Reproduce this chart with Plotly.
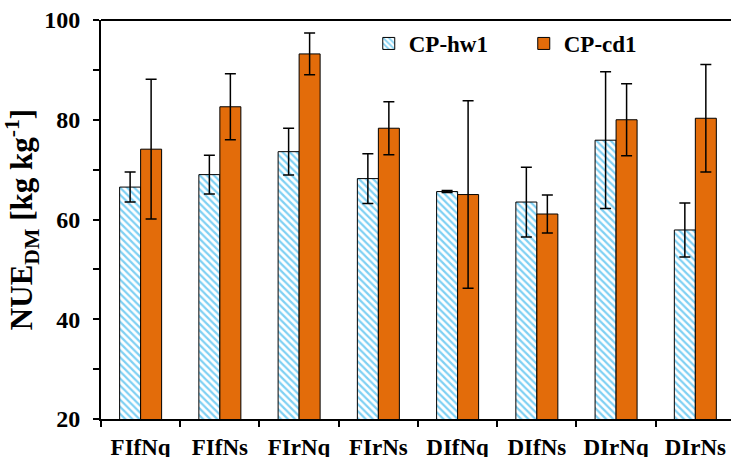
import plotly.graph_objects as go

categories = ["FIfNq", "FIfNs", "FIrNq", "FIrNs", "DIfNq", "DIfNs", "DIrNq", "DIrNs"]
hw1_values = [66.5, 69.0, 73.6, 68.2, 65.6, 63.5, 75.9, 57.9]
hw1_errors = [3.0, 3.9, 4.7, 5.0, 0.2, 7.0, 13.7, 5.4]
cd1_values = [74.1, 82.6, 93.2, 78.3, 65.0, 61.1, 80.0, 80.3]
cd1_errors = [14.0, 6.6, 4.2, 5.3, 18.8, 3.8, 7.2, 10.8]
y_ticks = [20, 40, 60, 80, 100]

FONT = "Liberation Serif"
ORANGE = "#E36C0A"
BLUE = "#00A2E8"

fig = go.Figure()
fig.add_trace(go.Bar(
    name="CP-hw1", x=categories, y=hw1_values,
    error_y=dict(type="data", array=hw1_errors, color="black", thickness=1.5, width=5.5),
    marker=dict(color="white", line=dict(color="black", width=1),
                pattern=dict(shape="\\", fgcolor=BLUE, bgcolor="white", size=5, solidity=0.45)),
))
fig.add_trace(go.Bar(
    name="CP-cd1", x=categories, y=cd1_values,
    error_y=dict(type="data", array=cd1_errors, color="black", thickness=1.5, width=5.5),
    marker=dict(color=ORANGE, line=dict(color="black", width=1)),
))
# empty trace so the label-only overlay axes are rendered
fig.add_trace(go.Scatter(x=[], y=[], xaxis="x2", yaxis="y2", showlegend=False, hoverinfo="skip"))

fig.add_shape(type="line", xref="paper", yref="paper", x0=0, x1=1, y0=1, y1=1,
              line=dict(color="black", width=2), layer="above")

bold = dict(family=FONT, color="black", weight="bold")
fig.update_layout(
    width=731, height=457,
    margin=dict(l=101, r=0, t=20, b=38),
    plot_bgcolor="white", paper_bgcolor="white",
    barmode="group", bargap=0.47, bargroupgap=0,
    font=dict(family=FONT, size=23, color="black"),
    showlegend=True,
    legend=dict(orientation="h", x=0.425, y=0.995, xanchor="left", yanchor="top",
                font=dict(size=23, **bold),
                bgcolor="rgba(0,0,0,0)", entrywidth=110, entrywidthmode="pixels",
                itemwidth=30, tracegroupgap=0),
    xaxis=dict(
        type="category", range=[-0.5, 7.45], automargin=False,
        showline=True, linecolor="black", linewidth=2,
        ticks="outside", tickson="boundaries", ticklen=6, tickwidth=2, tickcolor="black",
        showticklabels=False, showgrid=False,
    ),
    xaxis2=dict(
        overlaying="x", anchor="y", side="bottom", range=[-0.5, 7.45], automargin=False,
        tickvals=list(range(len(categories))), ticktext=categories,
        ticks="outside", ticklen=7, tickcolor="rgba(0,0,0,0)",
        tickfont=dict(size=23, **bold),
        showline=False, showgrid=False, zeroline=False,
    ),
    yaxis=dict(
        range=[20, 100], tickvals=y_ticks, automargin=False,
        showline=True, linecolor="black", linewidth=2,
        ticks="outside", ticklen=6, tickwidth=2, tickcolor="black",
        minor=dict(dtick=10, ticks="outside", ticklen=6, tickwidth=2, tickcolor="black", showgrid=False),
        showticklabels=False, showgrid=False, zeroline=False,
    ),
    yaxis2=dict(
        overlaying="y", anchor="x", side="left", range=[20, 100], tickvals=y_ticks, automargin=False,
        ticks="outside", ticklen=15, tickcolor="rgba(0,0,0,0)",
        tickfont=dict(size=24, **bold),
        showline=False, showgrid=False, zeroline=False,
        title=dict(text="NUE<sub>DM</sub> [kg kg<sup>-1</sup>]",
                   font=dict(size=31, **bold), standoff=10),
    ),
)

fig.write_html(
    "out.html",
    config={"displayModeBar": False},
    post_script="document.body.style.margin='0';document.body.style.overflow='hidden';window.scrollTo(0,0);",
)
